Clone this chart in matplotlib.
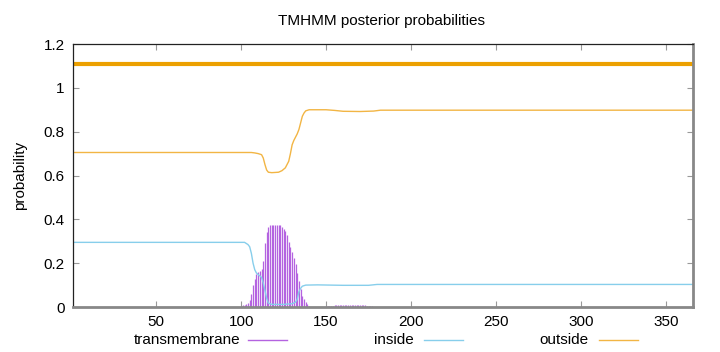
import matplotlib
matplotlib.use('Agg')
import matplotlib.pyplot as plt
from matplotlib.lines import Line2D

plt.rcParams['font.family'] = ['Liberation Sans', 'DejaVu Sans']

seq_len = 366

# transmembrane posterior per residue (impulses)
tm_pos = list(range(100, 141)) + [150, 151, 152] + list(range(153, 178))
tm_val = [0.005, 0.008, 0.010, 0.012, 0.020, 0.030, 0.060, 0.100, 0.130, 0.150,
          0.160, 0.165, 0.175, 0.210, 0.290, 0.340, 0.365, 0.373, 0.374, 0.374,
          0.374, 0.374, 0.373, 0.372, 0.365, 0.355, 0.345, 0.330, 0.295, 0.275,
          0.250, 0.225, 0.195, 0.155, 0.120, 0.080, 0.050, 0.035, 0.022, 0.012,
          0.005,
          0.004, 0.003, 0.003,
          0.006, 0.006, 0.007, 0.007, 0.008, 0.008, 0.008, 0.009, 0.009, 0.009,
          0.010, 0.010, 0.010, 0.010, 0.009, 0.009, 0.009, 0.008, 0.008, 0.007,
          0.007, 0.006, 0.006, 0.005, 0.004]

# inside posterior
in_pos = [1, 102, 104, 105, 106, 107, 108, 109, 110, 111, 112, 113, 114, 115,
          116, 118, 125, 130, 132, 133, 134, 135, 136, 138, 145, 160, 175, 180, 366]
in_val = [0.295, 0.295, 0.285, 0.275, 0.245, 0.200, 0.170, 0.155, 0.148, 0.142,
          0.135, 0.110, 0.075, 0.040, 0.018, 0.012, 0.012, 0.015, 0.022, 0.035,
          0.070, 0.085, 0.095, 0.100, 0.101, 0.099, 0.099, 0.103, 0.103]

# outside posterior
out_pos = [1, 106, 108, 110, 112, 113, 114, 115, 116, 118, 122, 124, 126, 127,
           128, 129, 130, 131, 132, 133, 134, 135, 136, 137, 138, 140, 150, 155,
           160, 170, 178, 182, 366]
out_val = [0.705, 0.705, 0.703, 0.700, 0.695, 0.680, 0.650, 0.625, 0.615, 0.613,
           0.615, 0.622, 0.635, 0.650, 0.665, 0.700, 0.740, 0.760, 0.775, 0.790,
           0.810, 0.840, 0.870, 0.885, 0.895, 0.900, 0.900, 0.897, 0.893, 0.892,
           0.894, 0.898, 0.898]

# predicted topology line
topo_start, topo_end, topo_y = 1, 366, 1.11

c_tm = '#b463e0'
c_in = '#87ceeb'
c_out = '#f2b544'
c_topo = '#eca000'

fig = plt.figure(figsize=(7.2, 3.52), dpi=100)
ax = fig.add_axes([0.1014, 0.1278, 0.8611, 0.7472])

ax.vlines(tm_pos, 0, tm_val, color=c_tm, linewidth=0.9)
ax.plot(in_pos, in_val, color=c_in, linewidth=1.0)
ax.plot(out_pos, out_val, color=c_out, linewidth=1.0)
ax.plot([topo_start, topo_end], [topo_y, topo_y], color=c_topo, linewidth=3)

ax.set_xlim(1, seq_len)
ax.set_ylim(0, 1.2)
ax.set_xticks([50, 100, 150, 200, 250, 300, 350])
ax.set_yticks([0, 0.2, 0.4, 0.6, 0.8, 1.0, 1.2])
ax.set_yticklabels(['0', '0.2', '0.4', '0.6', '0.8', '1', '1.2'])
ax.tick_params(direction='in', length=4, color='#999999', labelsize=11,
               top=True, right=True, pad=6)
for s in ['left', 'top']:
    ax.spines[s].set_color('#222222')
    ax.spines[s].set_linewidth(0.9)
for s in ['right', 'bottom']:
    ax.spines[s].set_color('#888888')
    ax.spines[s].set_linewidth(2)

ax.set_ylabel('probability', fontsize=11, labelpad=12)
fig.text(0.53, 0.94, 'TMHMM posterior probabilities', ha='center', va='center', fontsize=11)

# legend along the bottom
legend_items = [('transmembrane', c_tm, 240 / 720, 248 / 720),
                ('inside', c_in, 414 / 720, 424 / 720),
                ('outside', c_out, 589 / 720, 599 / 720)]
ly = 1 - 340 / 352
for label, col, tx, lx in legend_items:
    fig.text(tx, ly, label, ha='right', va='center', fontsize=11)
    fig.add_artist(Line2D([lx, lx + 39 / 720], [ly, ly], color=col, linewidth=1.0))

fig.savefig('out.png', dpi=100)
